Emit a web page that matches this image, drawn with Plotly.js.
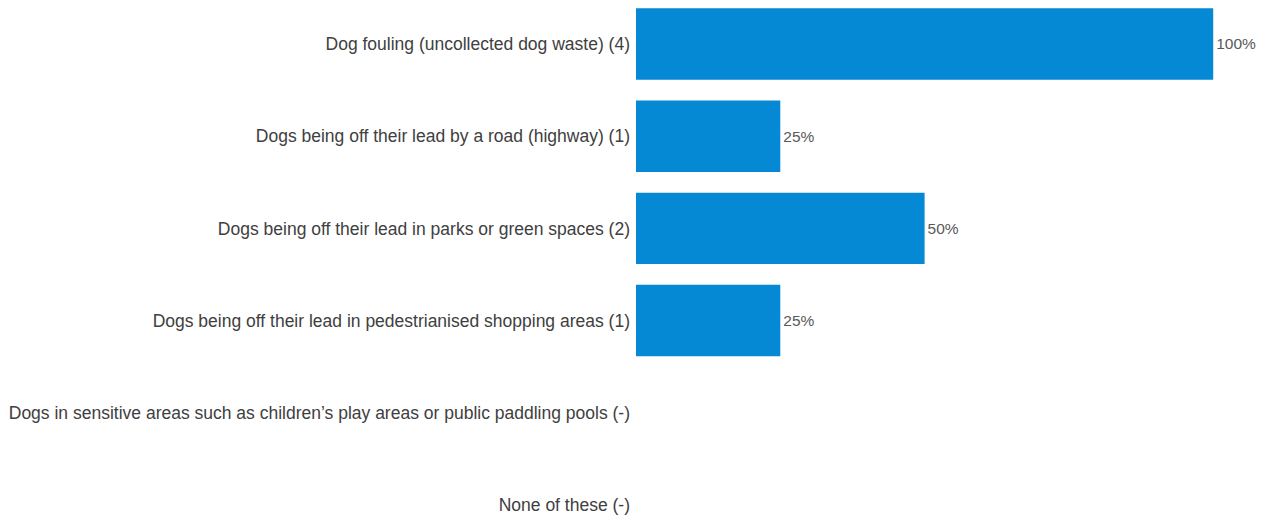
<!DOCTYPE html>
<html><head><meta charset="utf-8">
<script src="https://cdn.plot.ly/plotly-3.0.1.min.js"></script>
<style>html,body{margin:0;padding:0;background:#fff}</style>
</head><body><div id="chart" style="width:1264px;height:518px"></div>
<script>
const categories = [
  "Dog fouling (uncollected dog waste) (4)",
  "Dogs being off their lead by a road (highway) (1)",
  "Dogs being off their lead in parks or green spaces (2)",
  "Dogs being off their lead in pedestrianised shopping areas (1)",
  "Dogs in sensitive areas such as children\u2019s play areas or public paddling pools (-)",
  "None of these (-)"
];
const values = [100, 25, 50, 25, 0, 0];
const labels = values.map(v => v > 0 ? v + "%" : "");

Plotly.newPlot("chart", [{
  type: "bar",
  orientation: "h",
  y: categories,
  x: values,
  text: labels,
  textposition: "outside",
  cliponaxis: false,
  textfont: {family: "Liberation Sans, Arial, sans-serif", size: 15.5, color: "#595959"},
  marker: {color: "#0689d5"},
  width: 0.775,
  hoverinfo: "none"
}], {
  width: 1264, height: 518,
  margin: {l: 636, r: 0, t: 0, b: 0, pad: 0},
  paper_bgcolor: "#fff", plot_bgcolor: "#fff",
  showlegend: false,
  font: {family: "Liberation Sans, Arial, sans-serif"},
  xaxis: {range: [0, 108.8], showgrid: false, zeroline: false, showticklabels: false, showline: false, ticks: ""},
  yaxis: {type: "category", range: [5.141, -0.477], showgrid: false, zeroline: false, showline: false, ticks: "",
          ticklabelstandoff: 5,
          tickfont: {family: "Liberation Sans, Arial, sans-serif", size: 17.5, color: "#404040"}}
}, {staticPlot: true});
</script></body></html>
